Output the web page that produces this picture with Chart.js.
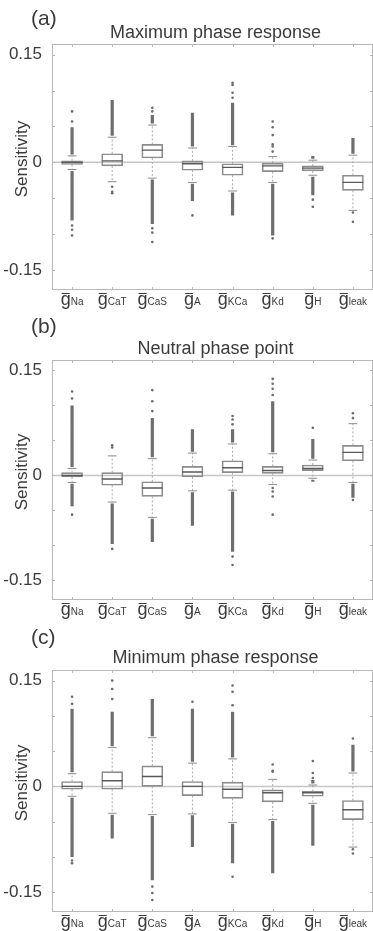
<!DOCTYPE html>
<html>
<head>
<meta charset="utf-8">
<title>Phase response sensitivity</title>
<script src="https://cdn.jsdelivr.net/npm/chart.js@4.4.1/dist/chart.umd.min.js"></script>
<style>
  html, body { margin: 0; padding: 0; background: #fff; overflow: hidden; }
  body { width: 373px; height: 931px; position: relative; }
  .panel { position: absolute; left: 0; }
</style>
</head>
<body>
<div class="panel" style="top:0"><canvas id="chartMax" width="377" height="310"></canvas></div>
<div class="panel" style="top:310px"><canvas id="chartNeutral" width="377" height="310"></canvas></div>
<div class="panel" style="top:620px"><canvas id="chartMin" width="377" height="311"></canvas></div>
<script>
const categories = ["Na", "CaT", "CaS", "A", "KCa", "Kd", "H", "leak"];
const yTickValues = [-0.15, -0.1, -0.05, 0, 0.05, 0.1, 0.15];
const yLabelled = [-0.15, 0, 0.15];
const yRange = [-0.178, 0.165];

// rows: [whisker low, Q1, median, Q3, whisker high]
const maxBox = [
  [-0.010, -0.003, 0.000, 0.002, 0.009],
  [-0.027, -0.005, 0.002, 0.012, 0.035],
  [-0.022, 0.006, 0.017, 0.025, 0.052],
  [-0.028, -0.011, -0.002, 0.002, 0.020],
  [-0.040, -0.018, -0.007, -0.002, 0.022],
  [-0.028, -0.013, -0.005, -0.001, 0.008],
  [-0.018, -0.012, -0.008, -0.005, 0.003],
  [-0.067, -0.039, -0.028, -0.018, 0.010]
];
// packed outliers, drawn as solid runs [from, to]
const maxDense = [
  [[0.011, 0.049], [-0.012, -0.081]],
  [[0.037, 0.087]],
  [[0.054, 0.066], [-0.024, -0.086]],
  [[0.022, 0.069], [-0.030, -0.054]],
  [[0.024, 0.083], [-0.042, -0.074]],
  [[-0.030, -0.102]],
  [[0.005, 0.009], [-0.020, -0.046]],
  [[0.012, 0.034]]
];
const maxSparse = [
  [0.057, 0.071, -0.088, -0.094, -0.102],
  [-0.034, -0.041, -0.043],
  [0.071, 0.076, -0.092, -0.098, -0.111],
  [-0.074],
  [0.090, 0.097, 0.108, 0.111],
  [0.015, 0.022, 0.025, 0.038, 0.049, 0.057, -0.106],
  [-0.052, -0.062],
  [-0.070, -0.083]
];

const neutralBox = [
  [-0.010, -0.002, 0.000, 0.004, 0.010],
  [-0.038, -0.014, -0.005, 0.004, 0.028],
  [-0.060, -0.030, -0.018, -0.009, 0.024],
  [-0.022, -0.002, 0.005, 0.013, 0.032],
  [-0.021, 0.004, 0.011, 0.021, 0.045],
  [-0.013, 0.003, 0.007, 0.013, 0.031],
  [-0.004, 0.007, 0.010, 0.015, 0.022],
  [-0.010, 0.021, 0.033, 0.043, 0.074]
];
const neutralDense = [
  [[0.012, 0.100], [-0.012, -0.044]],
  [[-0.040, -0.098]],
  [[0.026, 0.082], [-0.062, -0.095]],
  [[0.034, 0.066], [-0.024, -0.072]],
  [[0.047, 0.066], [-0.023, -0.109]],
  [[0.033, 0.106]],
  [[0.024, 0.052], [-0.006, -0.009]],
  [[-0.012, -0.032]]
];
const neutralSparse = [
  [0.110, 0.120, -0.056],
  [0.040, 0.043, -0.105],
  [0.092, 0.106, 0.122],
  [],
  [0.073, 0.080, 0.085, -0.116, -0.128],
  [0.115, 0.124, 0.131, 0.138, -0.018, -0.023, -0.030, -0.056],
  [0.068],
  [0.082, 0.089, -0.035]
];

const minBox = [
  [-0.014, -0.004, 0.000, 0.007, 0.018],
  [-0.038, -0.004, 0.008, 0.021, 0.055],
  [-0.040, 0.000, 0.014, 0.029, 0.069],
  [-0.039, -0.013, 0.000, 0.007, 0.033],
  [-0.051, -0.017, -0.004, 0.006, 0.039],
  [-0.047, -0.022, -0.009, -0.005, 0.010],
  [-0.024, -0.014, -0.009, -0.007, 0.002],
  [-0.086, -0.047, -0.033, -0.020, 0.019]
];
const minDense = [
  [[0.020, 0.110], [-0.016, -0.100]],
  [[0.057, 0.106], [-0.040, -0.074]],
  [[0.071, 0.124], [-0.042, -0.133]],
  [[0.035, 0.110], [-0.041, -0.086]],
  [[0.041, 0.106], [-0.053, -0.109]],
  [[-0.049, -0.123]],
  [[0.004, 0.009], [-0.026, -0.084]],
  [[0.021, 0.059]]
];
const minSparse = [
  [0.117, 0.127, -0.105, -0.109],
  [0.124, 0.138, 0.150],
  [-0.142, -0.151, -0.161],
  [0.120],
  [0.115, 0.134, 0.143, -0.128],
  [0.021, 0.022, 0.031],
  [0.012, 0.019, 0.036],
  [0.068, -0.089, -0.095]
];

const FONT = '"Liberation Sans", Arial, sans-serif';
const TEXT = '#3a3a3a';

// frame, zero line, tick marks and all the text around a panel
const panelDecor = {
  id: 'panelDecor',
  beforeDatasetsDraw(chart) {
    const { ctx, chartArea: a, scales: { x, y } } = chart;
    ctx.save();
    ctx.strokeStyle = '#c6c6c6';
    ctx.lineWidth = 1.5;
    const y0 = y.getPixelForValue(0);
    ctx.beginPath();
    ctx.moveTo(a.left, y0);
    ctx.lineTo(a.right, y0);
    ctx.stroke();

    ctx.strokeStyle = '#b8b8b8';
    ctx.lineWidth = 1;
    ctx.strokeRect(a.left + 0.5, a.top + 0.5, a.width - 1, a.height - 1);
    ctx.beginPath();
    categories.forEach((c, i) => {
      const px = Math.round(x.getPixelForValue(i + 1)) + 0.5;
      ctx.moveTo(px, a.top); ctx.lineTo(px, a.top + 3);
      ctx.moveTo(px, a.bottom); ctx.lineTo(px, a.bottom - 3);
    });
    yTickValues.forEach(v => {
      const py = Math.round(y.getPixelForValue(v)) + 0.5;
      ctx.moveTo(a.left, py); ctx.lineTo(a.left + 3, py);
      ctx.moveTo(a.right, py); ctx.lineTo(a.right - 3, py);
    });
    ctx.stroke();
    ctx.restore();
  },
  afterDraw(chart, args, opts) {
    const { ctx, chartArea: a, scales: { x } } = chart;
    ctx.save();
    ctx.fillStyle = TEXT;
    ctx.textBaseline = 'alphabetic';

    ctx.font = '21px ' + FONT;
    ctx.textAlign = 'left';
    ctx.fillText(opts.letter, 31, opts.letterY);

    ctx.font = '18px ' + FONT;
    ctx.textAlign = 'center';
    ctx.fillText(opts.title, (a.left + a.right) / 2 + 3, opts.titleY);

    ctx.save();
    ctx.font = '17px ' + FONT;
    ctx.translate(27, (a.top + a.bottom) / 2 - 8);
    ctx.rotate(-Math.PI / 2);
    ctx.fillText('Sensitivity', 0, 0);
    ctx.restore();

    // g with overbar and subscript
    const base = a.bottom + 15;
    ctx.textAlign = 'left';
    categories.forEach((c, i) => {
      const cx = x.getPixelForValue(i + 1);
      ctx.font = '18px ' + FONT;
      const gw = ctx.measureText('g').width;
      ctx.font = '10px ' + FONT;
      const sw = ctx.measureText(c).width;
      const left = cx - (gw + sw) / 2;
      ctx.font = '18px ' + FONT;
      ctx.fillText('g', left, base);
      ctx.fillRect(left + 1, a.bottom + 3, gw - 2, 1);
      ctx.font = '10px ' + FONT;
      ctx.fillText(c, left + gw, base - 0.5);
    });
    ctx.restore();
  }
};

function buildDatasets(box, dense, sparse) {
  const whiskers = [], caps = [], medians = [], runs = [], points = [];
  const capHalf = 0.11, boxHalf = 0.26;
  box.forEach((b, i) => {
    const x = i + 1;
    whiskers.push({ x, y: b[1] }, { x, y: b[0] }, { x, y: null },
                  { x, y: b[3] }, { x, y: b[4] }, { x, y: null });
    caps.push({ x: x - capHalf, y: b[0] }, { x: x + capHalf, y: b[0] }, { x, y: null },
              { x: x - capHalf, y: b[4] }, { x: x + capHalf, y: b[4] }, { x, y: null });
    medians.push({ x: x - boxHalf, y: b[2] }, { x: x + boxHalf, y: b[2] }, { x, y: null });
    dense[i].forEach(r => runs.push({ x, y: r[0] }, { x, y: r[1] }, { x, y: null }));
    sparse[i].forEach(v => points.push({ x, y: v }));
  });

  const seg = { type: 'line', pointRadius: 0, spanGaps: false, fill: false };
  return [
    { ...seg, label: 'outliers', data: points, showLine: false,
      pointRadius: 1.3, pointBackgroundColor: '#6a6a6a', pointBorderWidth: 0 },
    { ...seg, label: 'packed outliers', data: runs, borderColor: '#6e6e6e', borderWidth: 3.2 },
    { ...seg, label: 'median', data: medians, borderColor: '#5a5a5a', borderWidth: 1.4 },
    { type: 'bar', label: 'IQR', grouped: false, barThickness: 21,
      data: box.map((b, i) => ({ x: i + 1, y: [b[1], b[3]] })),
      backgroundColor: 'rgba(255,255,255,0)', borderColor: '#8c8c8c',
      borderWidth: 1, borderSkipped: false },
    { ...seg, label: 'caps', data: caps, borderColor: '#8c8c8c', borderWidth: 1 },
    { ...seg, label: 'whiskers', data: whiskers, borderColor: '#a8a8a8',
      borderWidth: 1, borderDash: [2, 2] }
  ];
}

function makePanel(id, letter, title, box, dense, sparse, pad, letterY, titleY) {
  new Chart(document.getElementById(id), {
    type: 'bar',
    data: { datasets: buildDatasets(box, dense, sparse) },
    options: {
      responsive: false,
      animation: false,
      devicePixelRatio: 1,
      layout: { padding: { top: pad[0], bottom: pad[1], left: 0, right: 2 } },
      scales: {
        x: {
          type: 'linear', min: 0.5, max: 8.5, offset: false, display: false,
          grid: { offset: false }
        },
        y: {
          type: 'linear', min: yRange[0], max: yRange[1],
          afterBuildTicks: s => { s.ticks = yTickValues.map(v => ({ value: v })); },
          afterFit: s => { s.width = 52; },
          grid: { display: false },
          border: { display: false },
          ticks: {
            autoSkip: false, padding: 2, color: TEXT,
            font: { family: FONT, size: 17 },
            callback: v => yLabelled.includes(v) ? String(v) : ''
          }
        }
      },
      plugins: {
        legend: { display: false },
        tooltip: { enabled: false },
        panelDecor: { letter, title, letterY, titleY }
      }
    },
    plugins: [panelDecor]
  });
}

makePanel('chartMax', '(a)', 'Maximum phase response', maxBox, maxDense, maxSparse, [44, 20], 25, 37.5);
makePanel('chartNeutral', '(b)', 'Neutral phase point', neutralBox, neutralDense, neutralSparse, [50, 20], 22.5, 44);
makePanel('chartMin', '(c)', 'Minimum phase response', minBox, minDense, minSparse, [50, 19], 23.5, 43);
</script>
</body>
</html>
